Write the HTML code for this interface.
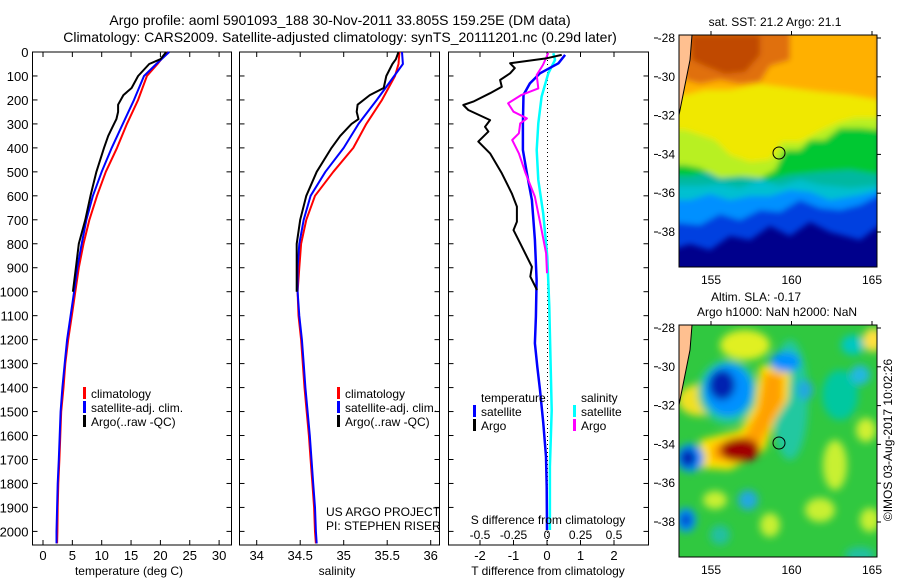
<!DOCTYPE html>
<html><head><meta charset="utf-8">
<style>
html,body{margin:0;padding:0;background:#fff;}
svg{display:block;font-family:"Liberation Sans",sans-serif;}
text{fill:#000;}
</style></head>
<body>
<svg id="chart" width="900" height="580" viewBox="0 0 900 580" xmlns="http://www.w3.org/2000/svg">
<defs>
<filter id="blur3" x="-10%" y="-10%" width="120%" height="120%"><feGaussianBlur stdDeviation="3"/></filter>
<filter id="blur5" x="-20%" y="-20%" width="140%" height="140%"><feGaussianBlur stdDeviation="4"/></filter>
<clipPath id="clipTop"><rect x="679" y="35" width="198" height="232"/></clipPath>
<clipPath id="clipBot"><rect x="679" y="325" width="198" height="232"/></clipPath>
</defs>

<text x="340" y="25" font-size="14" text-anchor="middle">Argo profile: aoml 5901093_188 30-Nov-2011 33.805S 159.25E (DM data)</text>
<text x="340" y="42" font-size="14" text-anchor="middle">Climatology: CARS2009. Satellite-adjusted climatology: synTS_20111201.nc (0.29d later)</text>

<g id="p1"></g>
<g id="p2"></g>
<g id="p3"></g>

<g>
<text x="775" y="26" font-size="12" text-anchor="middle">sat. SST: 21.2 Argo: 21.1</text>
<g clip-path="url(#clipTop)">
<rect x="679" y="35" width="198" height="232" fill="#00008c"/>
<g filter="url(#blur3)">
<path d="M670,30 L880,30 L880,225 L860,240 L830,232 L810,222 L790,236 L770,226 L750,240 L730,236 L710,250 L690,244 L670,250 Z" fill="#0040e0"/>
<path d="M670,30 L880,30 L880,195 L860,205 L840,210 L820,208 L800,200 L780,212 L760,210 L740,220 L720,214 L700,225 L670,222 Z" fill="#0090ff"/>
<path d="M670,30 L880,30 L880,190 L860,195 L830,200 L810,192 L790,190 L770,196 L750,196 L730,200 L710,194 L690,200 L670,200 Z" fill="#00c0d0"/>
<path d="M670,30 L880,30 L880,185 L850,188 L820,185 L800,180 L780,186 L760,180 L740,188 L720,184 L700,186 L670,186 Z" fill="#00b8a0"/>
<path d="M670,30 L880,30 L880,175 L850,170 L820,172 L790,175 L770,180 L750,176 L730,178 L710,172 L690,176 L670,176 Z" fill="#00c830"/>
<path d="M670,30 L880,30 L880,130 L860,128 L840,128 L825,140 L810,140 L800,150 L785,150 L775,170 L760,178 L740,176 L720,178 L700,168 L685,165 L670,165 Z" fill="#b8f020"/>
<path d="M670,30 L880,30 L880,118 L855,118 L840,122 L822,130 L800,142 L782,142 L770,160 L750,162 L730,155 L715,140 L700,135 L685,130 L670,130 Z" fill="#f0e800"/>
<path d="M670,30 L880,30 L880,100 L850,95 L820,92 L790,88 L760,84 L730,90 L705,90 L685,95 L670,95 Z" fill="#ffb000"/>
<path d="M680,30 L790,30 L790,60 L770,66 L760,82 L740,84 L720,80 L700,84 L685,80 Z" fill="#e07010"/>
<path d="M690,35 L760,35 L760,55 L745,72 L725,74 L705,66 L692,60 Z" fill="#c04800"/>
</g>
<path d="M679,35 L692,35 L690,60 L686,80 L682,100 L679,115 Z" fill="#ffc090"/>
<path d="M692,35 L690,60 L686,80 L682,100 L679,115" fill="none" stroke="#000" stroke-width="1"/>
<circle cx="779" cy="153" r="6" fill="none" stroke="#000" stroke-width="1"/>
</g>
<rect x="679" y="35" width="198" height="232" fill="none" stroke="#000" stroke-width="1"/>
</g>

<g>
<text x="756" y="301" font-size="12" text-anchor="middle">Altim. SLA: -0.17</text>
<text x="777" y="316" font-size="12" text-anchor="middle">Argo h1000: NaN h2000: NaN</text>
<g clip-path="url(#clipBot)">
<rect x="679" y="325" width="198" height="232" fill="#30c840"/>
<g filter="url(#blur5)">
<ellipse cx="745" cy="345" rx="25" ry="15" fill="#e0f020"/>
<ellipse cx="790" cy="400" rx="18" ry="60" fill="#20c8a0"/>
<ellipse cx="700" cy="400" rx="22" ry="16" fill="#f0e020"/>
<ellipse cx="728" cy="392" rx="30" ry="32" fill="#20c8a0"/>
<ellipse cx="728" cy="390" rx="24" ry="26" fill="#0090ff"/>
<ellipse cx="722" cy="385" rx="13" ry="15" fill="#0020b0"/>
<path d="M760,365 L790,368 L788,400 L775,420 L765,450 L730,470 L700,468 L700,440 L740,430 L755,405 Z" fill="#ffe000"/>
<path d="M765,372 L783,375 L783,402 L770,425 L760,445 L735,462 L712,460 L712,445 L745,435 L758,410 Z" fill="#ffa000"/>
<ellipse cx="740" cy="450" rx="20" ry="12" fill="#a00000"/>
<ellipse cx="690" cy="458" rx="14" ry="14" fill="#0090ff"/>
<ellipse cx="688" cy="458" rx="8" ry="9" fill="#0020b0"/>
<ellipse cx="686" cy="520" rx="10" ry="12" fill="#0090ff"/>
<ellipse cx="686" cy="520" rx="5" ry="6" fill="#0030c0"/>
<ellipse cx="785" cy="362" rx="15" ry="10" fill="#0090ff"/>
<ellipse cx="805" cy="390" rx="8" ry="10" fill="#20a8e0"/>
<ellipse cx="840" cy="395" rx="18" ry="25" fill="#00c8a0"/>
<ellipse cx="835" cy="465" rx="12" ry="25" fill="#c8f030"/>
<ellipse cx="853" cy="345" rx="12" ry="10" fill="#00c8c0"/>
<ellipse cx="873" cy="340" rx="10" ry="12" fill="#ffe040"/>
<ellipse cx="860" cy="375" rx="10" ry="10" fill="#20b8e0"/>
<ellipse cx="866" cy="430" rx="10" ry="12" fill="#d0f030"/>
<ellipse cx="748" cy="500" rx="10" ry="10" fill="#20a8e0"/>
<ellipse cx="715" cy="500" rx="12" ry="9" fill="#c8f030"/>
<ellipse cx="770" cy="525" rx="10" ry="12" fill="#c8f030"/>
<ellipse cx="720" cy="535" rx="10" ry="10" fill="#20c0a0"/>
<ellipse cx="820" cy="510" rx="15" ry="12" fill="#c8f030"/>
<ellipse cx="870" cy="520" rx="10" ry="12" fill="#c8f030"/>
<ellipse cx="860" cy="555" rx="15" ry="8" fill="#20c0a0"/>
</g>
<path d="M679,325 L692,325 L690,350 L686,370 L682,390 L679,405 Z" fill="#ffc090"/>
<path d="M692,325 L690,350 L686,370 L682,390 L679,405" fill="none" stroke="#000" stroke-width="1"/>
<circle cx="779" cy="443" r="6" fill="none" stroke="#000" stroke-width="1"/>
</g>
<rect x="679" y="325" width="198" height="232" fill="none" stroke="#000" stroke-width="1"/>
<text x="0" y="0" font-size="12" text-anchor="middle" transform="translate(892,440) rotate(-90)">©IMOS 03-Aug-2017 10:02:26</text>
</g>
<g id="mapaxes"></g>
</svg>

<script>
const depthClim = [0,50,100,200,300,400,500,600,700,800,900,1000,1100,1200,1300,1400,1500,1600,1700,1800,1900,2000,2050];
const tempClim = [21.1,19.5,17.7,16.2,14.3,12.6,10.7,9.2,7.9,6.9,6.1,5.5,4.9,4.3,3.8,3.5,3.1,2.95,2.8,2.6,2.5,2.45,2.4];
const tempSat  = [21.5,19.3,17.2,15.5,13.6,11.7,10.0,8.5,7.4,6.6,5.85,5.3,4.7,4.1,3.7,3.3,3.0,2.85,2.7,2.5,2.4,2.3,2.3];
const salClim  = [35.64,35.63,35.59,35.44,35.26,35.11,34.88,34.67,34.57,34.51,34.49,34.47,34.48,34.51,34.53,34.55,34.575,34.60,34.62,34.64,34.66,34.67,34.68];
const salSat   = [35.67,35.68,35.58,35.38,35.17,35.00,34.79,34.62,34.54,34.49,34.47,34.47,34.49,34.52,34.54,34.56,34.585,34.61,34.63,34.65,34.67,34.68,34.69];
const depthArgo = [0,30,50,100,150,180,220,250,280,300,350,400,500,600,700,800,900,1000];
const tempArgo  = [21.0,20.0,18.1,16.2,15.1,13.7,12.8,12.8,12.5,12.1,11.1,10.4,9.1,8.1,7.2,6.1,5.6,5.1];
const salArgo   = [35.63,35.60,35.56,35.49,35.46,35.30,35.16,35.15,35.17,35.09,34.96,34.86,34.69,34.57,34.50,34.46,34.46,34.46];
const depthDT = [12,26,47,67,89,117,145,172,207,221,242,284,312,332,374,423,506,590,645,708,743,798,896,937,993];
const dTArgo  = [0.44,0,-1.1,-0.96,-1.1,-1.4,-1.35,-1.7,-2.2,-2.5,-2.35,-1.7,-1.85,-1.75,-2.05,-1.7,-1.35,-1.05,-0.9,-0.9,-1.0,-0.8,-0.45,-0.5,-0.3];
const depthDS = [4,54,96,152,179,214,249,277,298,339,367,423,506,604,715,840,923];
const dSArgo  = [0.01,-0.03,-0.077,-0.065,-0.19,-0.29,-0.25,-0.15,-0.2,-0.21,-0.26,-0.21,-0.16,-0.09,-0.05,-0.007,0];
const depthDTSat = [12,47,89,131,179,298,409,506,618,784,951,1104,1215,1313,1410,1549,1688,1813,1994];
const dTSat = [0.54,0.34,-0.21,-0.51,-0.7,-0.72,-0.72,-0.6,-0.45,-0.36,-0.31,-0.33,-0.36,-0.29,-0.21,-0.11,-0.03,-0.01,0];
const depthDSSat = [5,33,89,186,298,409,534,673,854,1063,1174,1494,1730,1994];
const dSSat = [0.047,0.06,0.01,-0.04,-0.065,-0.077,-0.065,-0.028,0.002,0.017,0.022,0.035,0.022,0.022];
const depthTicks = [0,100,200,300,400,500,600,700,800,900,1000,1100,1200,1300,1400,1500,1600,1700,1800,1900,2000];
const tempTicks = [0,5,10,15,20,25,30];
const salTicks = [34,34.5,35,35.5,36];
const dTTicks = [-2,-1,0,1,2];
const dSTicks = [-0.5,-0.25,0,0.25,0.5];
const latTicks = [-28,-30,-32,-34,-36,-38];
const lonTicks = [155,160,165];

const NS = "http://www.w3.org/2000/svg";
function mk(tag, attrs, parent){const e=document.createElementNS(NS,tag);for(const k in attrs)e.setAttribute(k,attrs[k]);parent.appendChild(e);return e;}
const yD = d => 52 + d*0.2397;
const pTop=52, pBot=545;
function panel(g, x0, x1, xs, ticks, fmt, showDepth){
  const fr = mk('rect',{x:x0,y:pTop,width:x1-x0,height:pBot-pTop,fill:'none',stroke:'#000','stroke-width':1},g);
  
  
  depthTicks.forEach(d=>{
    const y=yD(d);
    mk('line',{x1:x0,x2:x0+5,y1:y,y2:y,stroke:'#000'},g);
    mk('line',{x1:x1-5,x2:x1,y1:y,y2:y,stroke:'#000'},g);
    if(showDepth){const t=mk('text',{x:x0-4,y:y+5,'font-size':13,'text-anchor':'end'},g);t.textContent=d;
      
      }
  });
  ticks.forEach(v=>{
    const x=xs(v);
    mk('line',{x1:x,x2:x,y1:pTop,y2:pTop+5,stroke:'#000'},g);
    mk('line',{x1:x,x2:x,y1:pBot-5,y2:pBot,stroke:'#000'},g);
    if(fmt){const t=mk('text',{x:x,y:560,'font-size':13,'text-anchor':'middle'},g);t.textContent=fmt(v);
      
      }
  });
}
function line(g, xs, vals, depths, color, w, name){
  const p = vals.map((v,i)=>`${xs(v).toFixed(1)},${yD(depths[i]).toFixed(1)}`).join(' ');
  const e=mk('polyline',{points:p,fill:'none',stroke:color,'stroke-width':w,'stroke-linejoin':'round'},g);
  
  
}
function legend(g, x, y, color, label, name){
  mk('rect',{x:x,y:y-10,width:3,height:12,fill:color},g);
  const t=mk('text',{x:x+8,y:y+1,'font-size':12},g);t.textContent=label;
  
  
}
function label(g,x,y,s,name,anchor){const t=mk('text',{x:x,y:y,'font-size':12,'text-anchor':anchor||'middle'},g);t.textContent=s;
  
  }

const g1=document.getElementById('p1');
const xT = v => 43 + v*5.87;
panel(g1,32.5,231.5,xT,tempTicks,v=>v,true);
line(g1,xT,tempClim,depthClim,'#ff0000',2,'temp-climatology-line');
line(g1,xT,tempSat,depthClim,'#0000ff',2,'temp-satellite-line');
line(g1,xT,tempArgo,depthArgo,'#000000',2,'temp-argo-line');
legend(g1,83,397,'#ff0000','climatology','legend-climatology');
legend(g1,83,411,'#0000ff','satellite-adj. clim.','legend-satellite');
legend(g1,83,425,'#000000','Argo(..raw -QC)','legend-argo');
label(g1,129,575,'temperature (deg C)','x-axis-title-temperature');

const g2=document.getElementById('p2');
const xS = v => 256.7 + (v-34)*87;
panel(g2,239.5,439.5,xS,salTicks,v=>v,false);
line(g2,xS,salClim,depthClim,'#ff0000',2,'sal-climatology-line');
line(g2,xS,salSat,depthClim,'#0000ff',2,'sal-satellite-line');
line(g2,xS,salArgo,depthArgo,'#000000',2,'sal-argo-line');
legend(g2,337,397,'#ff0000','climatology','legend-climatology');
legend(g2,337,411,'#0000ff','satellite-adj. clim.','legend-satellite');
legend(g2,337,425,'#000000','Argo(..raw -QC)','legend-argo');
label(g2,326,516,'US ARGO PROJECT','project-label','start');
label(g2,326,530,'PI: STEPHEN RISER','pi-label','start');
label(g2,337,575,'salinity','x-axis-title-salinity');

const g3=document.getElementById('p3');
const xdT = v => 547 + v*33.5;
const xdS = v => 547 + v*134;
panel(g3,448.5,648.5,xdT,dTTicks,v=>v,false);
const zl=mk('line',{x1:547.5,x2:547.5,y1:pTop,y2:pBot,stroke:'#000','stroke-dasharray':'1,3'},g3);


line(g3,xdS,dSSat,depthDSSat,'#00ffff',2.5,'sal-diff-satellite-line');
line(g3,xdT,dTSat,depthDTSat,'#0000ff',2.5,'temp-diff-satellite-line');
line(g3,xdS,dSArgo,depthDS,'#ff00ff',2,'sal-diff-argo-line');
line(g3,xdT,dTArgo,depthDT,'#000000',2,'temp-diff-argo-line');
dSTicks.forEach(v=>label(g3,xdS(v),539,v,'s-diff-tick-label'));
label(g3,548,524,'S difference from climatology','s-diff-axis-title');
label(g3,548,575,'T difference from climatology','t-diff-axis-title');
label(g3,481,402,'temperature','legend-temperature-header','start');
label(g3,581,402,'salinity','legend-salinity-header','start');
legend(g3,473,415,'#0000ff','satellite','legend-temp-satellite');
legend(g3,473,429,'#000000','Argo','legend-temp-argo');
legend(g3,573,415,'#00ffff','satellite','legend-sal-satellite');
legend(g3,573,429,'#ff00ff','Argo','legend-sal-argo');

const ga=document.getElementById('mapaxes');
const yLat = (lat, y0) => y0 + (-28 - lat)*19.4 + 3;
const xLon = lon => 711 + (lon-155)*16.1;
[35,325].forEach(y0=>{
  latTicks.forEach(l=>{
    const y=yLat(l,y0);
    mk('line',{x1:654,x2:658,y1:y,y2:y,stroke:'#000'},ga);
    mk('line',{x1:877,x2:881,y1:y,y2:y,stroke:'#000'},ga);
    label(ga,675,y+4,l,'lat-tick-label','end');
  });
  lonTicks.forEach(l=>{
    const x=xLon(l);
    mk('line',{x1:x,x2:x,y1:y0-4,y2:y0,stroke:'#000'},ga);
    label(ga,x,y0+232+17,l,'lon-tick-label');
  });
});
</script>
</body></html>
